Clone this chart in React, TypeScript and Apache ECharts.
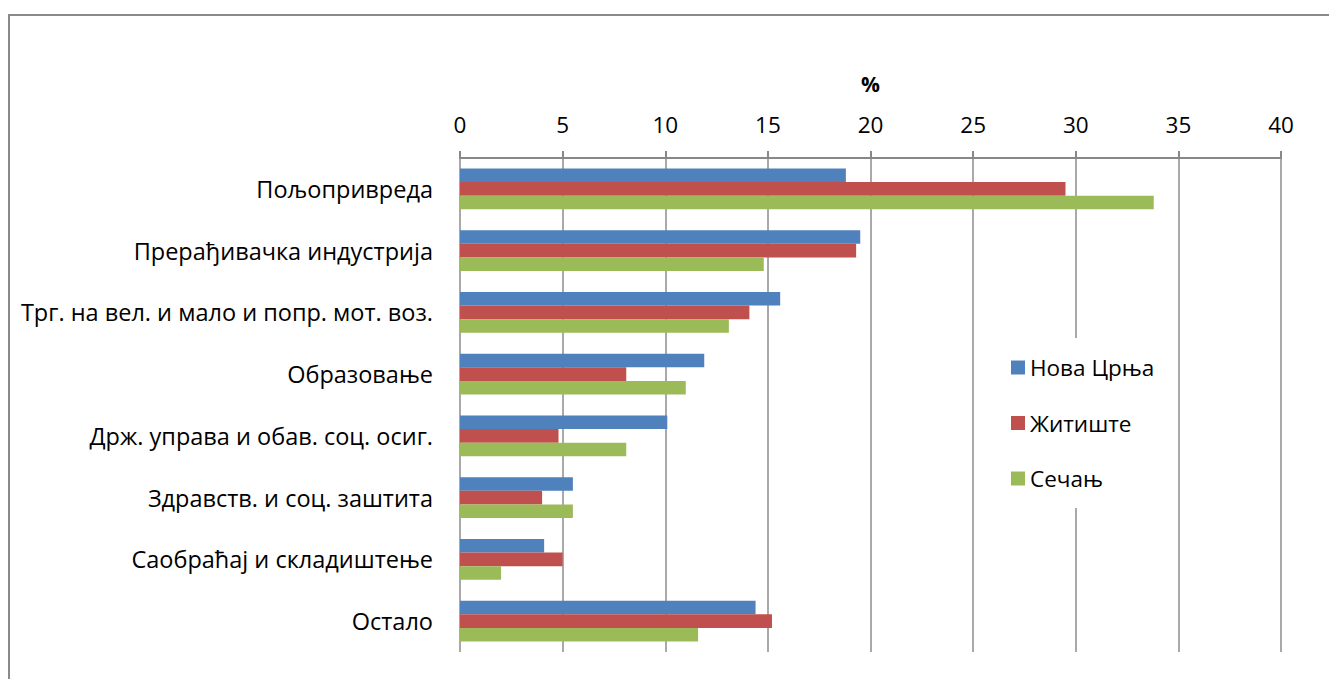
import React, { useEffect, useRef } from "react";
import * as echarts from "echarts";

const categories = [
  "Пољопривреда",
  "Прерађивачка индустрија",
  "Трг. на вел. и мало и попр. мот. воз.",
  "Образовање",
  "Држ. управа и обав. соц. осиг.",
  "Здравств. и соц. заштита",
  "Саобраћај и складиштење",
  "Остало",
];
const novaCrnja = [18.8, 19.5, 15.6, 11.9, 10.1, 5.5, 4.1, 14.4];
const zitiste = [29.5, 19.3, 14.1, 8.1, 4.8, 4.0, 5.0, 15.2];
const secanj = [33.8, 14.8, 13.1, 11.0, 8.1, 5.5, 2.0, 11.6];
const seriesNames = ["Нова Црња", "Житиште", "Сечањ"];
const colors = ["#4F81BD", "#C0504D", "#9BBB59"];

const FONT = "'Open Sans', 'Noto Sans', sans-serif";

export default function App() {
  const ref = useRef<HTMLDivElement>(null);
  useEffect(() => {
    if (!ref.current) return;
    const chart = echarts.init(ref.current, undefined, { renderer: "svg" });
    const data = [novaCrnja, zitiste, secanj];
    chart.setOption({
      animation: false,
      backgroundColor: "#ffffff",
      color: colors,
      textStyle: { fontFamily: FONT },
      graphic: [
        {
          type: "rect",
          shape: { x: 9, y: 15, width: 1400, height: 800 },
          style: { fill: "none", stroke: "#8a8a8a", lineWidth: 2 },
          silent: true,
          z: 100,
        },
      ],
      grid: { left: 460, top: 158, right: 48, bottom: 27, containLabel: false },
      legend: {
        orient: "vertical",
        left: 995,
        top: 338,
        data: seriesNames,
        icon: "rect",
        itemWidth: 14,
        itemHeight: 14,
        itemGap: 32.5,
        backgroundColor: "#ffffff",
        padding: [18, 12, 18, 16],
        textStyle: { fontFamily: FONT, fontSize: 22.5, lineHeight: 22, color: "#000" },
      },
      xAxis: {
        type: "value",
        position: "top",
        min: 0,
        max: 40,
        interval: 5,
        name: "%",
        nameLocation: "middle",
        nameGap: 64,
        nameTextStyle: { fontFamily: FONT, fontSize: 21, fontWeight: "bold", color: "#000" },
        axisLine: { show: true, lineStyle: { color: "#888888", width: 2 } },
        axisTick: { show: true, length: 7, lineStyle: { color: "#888888", width: 2 } },
        axisLabel: { fontFamily: FONT, fontSize: 22.5, color: "#000", margin: 22 },
        splitLine: { show: true, lineStyle: { color: "#8c8c8c", width: 1.5 } },
      },
      yAxis: {
        type: "category",
        inverse: true,
        data: categories,
        axisLine: { show: false },
        axisTick: { show: false },
        axisLabel: { fontFamily: FONT, fontSize: 23.5, color: "#000", margin: 27 },
        splitLine: { show: false },
      },
      series: seriesNames.map((name, i) => ({
        name,
        type: "bar",
        data: data[i],
        barGap: "0%",
        barCategoryGap: "34%",
        itemStyle: { color: colors[i] },
      })),
    });
    return () => chart.dispose();
  }, []);
  return (
    <div
      ref={ref}
      style={{ position: "absolute", left: 0, top: 0, width: 1329, height: 679 }}
    />
  );
}
